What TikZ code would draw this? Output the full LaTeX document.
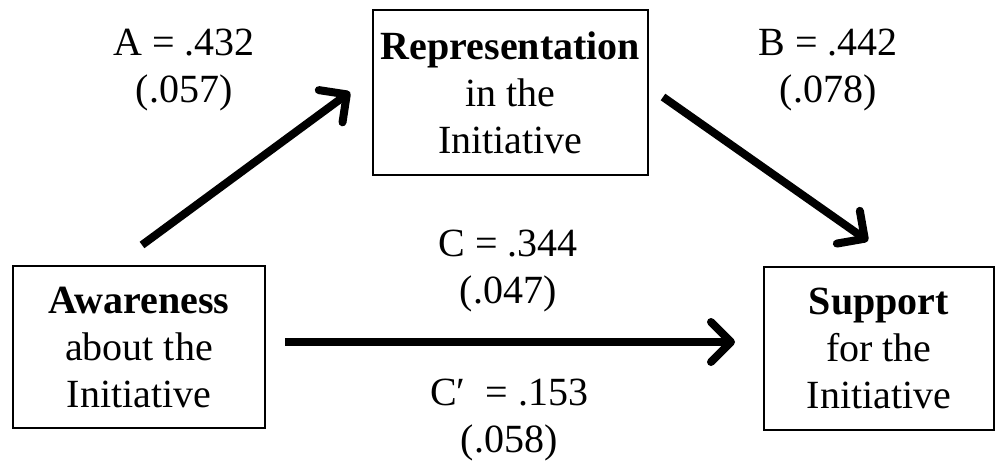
\documentclass[tikz,border=0pt]{standalone}
\usepackage{fontspec}
\setmainfont{Liberation Serif}
\usepackage{tikz}
\usetikzlibrary{arrows.meta,positioning}

\begin{document}
\begin{tikzpicture}[x=1pt, y=-1pt,
  box/.style={draw, line width=2pt, inner sep=0pt, align=center, font=\fontsize{40}{47}\selectfont},
  lbl/.style={inner sep=0pt, align=center, font=\fontsize{40}{47}\selectfont},
  ar/.style={line width=8pt, -{Straight Barb[length=20pt, width=40pt, round]}}
]
\useasboundingbox (0,0) rectangle (995,463);
\node[box, minimum width=252pt, minimum height=162pt] (aware) at (139,347) {\textbf{Awareness}\\about the\\Initiative};
\node[box, minimum width=275pt, minimum height=165pt] (repr) at (510.5,92.5) {\textbf{Representation}\\in the\\Initiative};
\node[box, minimum width=230pt, minimum height=163pt] (supp) at (879,348.5) {\textbf{Support}\\for the\\Initiative};
% free ends of the paths
\coordinate (a0) at (142,245);
\coordinate (a1) at (350,92);
\coordinate (b0) at (663,97);
\coordinate (b1) at (868,241);
\coordinate (c0) at (285,342);
\coordinate (c1) at (735,342);
\draw[ar] (a0) -- (a1);
\draw[ar] (b0) -- (b1);
\draw[ar] (c0) -- (c1);
\node[lbl] (la) at (184,70.5) {A = .432\\(.057)};
\node[lbl] (lb) at (828,70.5) {B = .442\\(.078)};
\node[lbl] (lc) at (508,271.5) {C = .344\\(.047)};
\node[lbl] (lcp) at (509,420.5) {C′~~= .153\\(.058)};
\end{tikzpicture}
\end{document}
